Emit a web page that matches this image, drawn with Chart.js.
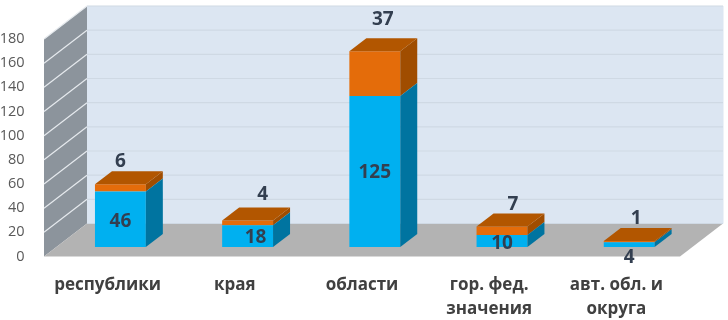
<!DOCTYPE html>
<html>
<head>
<meta charset="utf-8">
<style>
  html, body { margin: 0; background: #fff; }
  canvas { display: block; }
</style>
<script src="https://cdn.jsdelivr.net/npm/chart.js@4"></script>
</head>
<body>
<canvas id="chart" width="728" height="320"></canvas>
<script>
const categories = [['республики'], ['края'], ['области'], ['гор. фед.', 'значения'], ['авт. обл. и', 'округа']];
const bottomValues = [46, 18, 125, 10, 4];
const topValues = [6, 4, 37, 7, 1];
const yMax = 180;
const yStep = 20;

// 3d look: room depth, how far the bars stand from the front edge, bar depth
const ROOM = { dx: 43, dy: -33 };
const BAR_SHIFT = { dx: 12.8, dy: -9.5 };
const BAR_DEPTH = { dx: 17, dy: -13 };

// hand nudges for the value labels, [x, y] per category
const bottomNudge = [[0, 2], [8, 1], [0, 1], [0, 3], [0, 13]];
const topNudge = [[0, -23], [15, -26], [8, -32], [11, -22], [7, -22]];

const quad = (ctx, pts, color) => {
  ctx.fillStyle = color;
  ctx.beginPath();
  pts.forEach(([x, y], i) => i ? ctx.lineTo(x, y) : ctx.moveTo(x, y));
  ctx.closePath();
  ctx.fill();
};

const room3d = {
  id: 'room3d',
  beforeDatasetsDraw(chart) {
    const { ctx, chartArea: a, scales: { y } } = chart;
    const bx = a.left + ROOM.dx, by = a.bottom + ROOM.dy;
    const rx = a.right + ROOM.dx;
    const topBack = a.top + ROOM.dy;

    quad(ctx, [[bx, topBack], [rx + 0.5, topBack], [rx + 0.5, by], [bx, by]], '#DCE6F2');
    quad(ctx, [[a.left, a.top], [bx, topBack], [bx, by], [a.left, a.bottom]], '#8C949C');
    quad(ctx, [[a.left, a.bottom], [bx, by], [rx, by], [a.right, a.bottom]], '#B3B3B3');

    y.ticks.forEach(t => {
      const py = y.getPixelForValue(t.value);
      ctx.lineWidth = 1.2;
      ctx.strokeStyle = '#CFD9E4';
      ctx.beginPath();
      ctx.moveTo(bx, py + ROOM.dy);
      ctx.lineTo(rx, py + ROOM.dy);
      ctx.stroke();
      if (t.value === 0) return;
      ctx.strokeStyle = '#E6EAEE';
      ctx.beginPath();
      ctx.moveTo(a.left, py);
      ctx.lineTo(bx, py + ROOM.dy);
      ctx.stroke();
    });
  },
};

const bars3d = {
  id: 'bars3d',
  beforeDatasetDraw(chart) {
    chart.ctx.save();
    chart.ctx.translate(BAR_SHIFT.dx, BAR_SHIFT.dy);
  },
  afterDatasetDraw(chart, args) {
    const { ctx } = chart;
    const ds = chart.data.datasets[args.index];
    args.meta.data.forEach(bar => {
      const { x, y, base, width } = bar.getProps(['x', 'y', 'base', 'width'], true);
      const l = x - width / 2, r = x + width / 2;
      const { dx, dy } = BAR_DEPTH;
      quad(ctx, [[r, y], [r + dx, y + dy], [r + dx, base + dy], [r, base]], ds.sideColor);
      // chart.js paints the stack top first, so only the top series gets a cap
      if (ds.capColor) quad(ctx, [[l, y], [l + dx, y + dy], [r + dx, y + dy], [r, y]], ds.capColor);
    });
    ctx.restore();
  },
  afterDraw(chart) {
    const { ctx } = chart;
    ctx.save();
    ctx.font = 'bold 19px "Open Sans"';
    ctx.fillStyle = '#333F50';
    ctx.textAlign = 'center';
    ctx.textBaseline = 'middle';
    const lower = chart.getDatasetMeta(0).data;
    const upper = chart.getDatasetMeta(1).data;
    lower.forEach((bar, i) => {
      const x = bar.x + BAR_SHIFT.dx + bottomNudge[i][0];
      const y = (bar.y + bar.base) / 2 + BAR_SHIFT.dy + bottomNudge[i][1];
      ctx.fillText(bottomValues[i], x, y);
    });
    upper.forEach((bar, i) => {
      const x = bar.x + BAR_SHIFT.dx + topNudge[i][0];
      const y = bar.y + BAR_SHIFT.dy + topNudge[i][1];
      ctx.fillText(topValues[i], x, y);
    });
    ctx.restore();
  },
};

new Chart(document.getElementById('chart'), {
  type: 'bar',
  data: {
    labels: categories,
    datasets: [
      { data: bottomValues, backgroundColor: '#00B0F0', sideColor: '#0074A0', clip: false },
      { data: topValues, backgroundColor: '#E46C0A', sideColor: '#A04D00', capColor: '#B25600', clip: false },
    ],
  },
  options: {
    responsive: false,
    animation: false,
    layout: { padding: { top: 39, right: 48 } },
    categoryPercentage: 1,
    barPercentage: 0.4,
    plugins: { legend: { display: false }, tooltip: { enabled: false } },
    scales: {
      x: {
        stacked: true,
        grid: { display: false },
        border: { display: false },
        afterFit(s) { s.height = 63.5; },
        ticks: {
          padding: 9,
          maxRotation: 0,
          autoSkip: false,
          color: '#404040',
          font: { family: '"Open Sans"', size: 17, weight: 'bold', lineHeight: 1.41 },
        },
      },
      y: {
        stacked: true,
        min: 0,
        max: yMax,
        grid: { display: false },
        border: { display: false },
        afterFit(s) { s.width = 44; },
        ticks: {
          stepSize: yStep,
          padding: 11.5,
          color: '#595959',
          font: { family: '"Open Sans"', size: 14.5 },
        },
      },
    },
  },
  plugins: [room3d, bars3d],
});
</script>
</body>
</html>
